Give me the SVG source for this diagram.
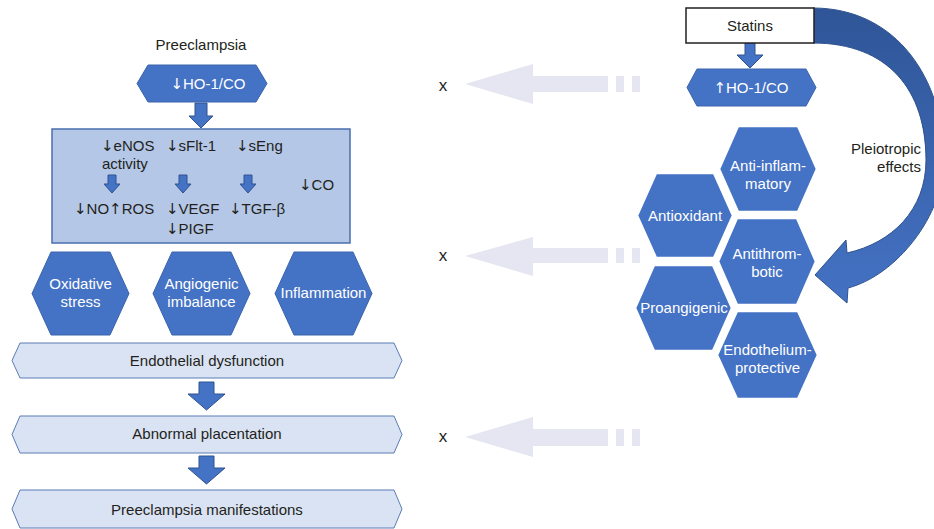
<svg xmlns="http://www.w3.org/2000/svg" width="934" height="529" viewBox="0 0 934 529">
<style>
text{font-family:"Liberation Sans",Arial,sans-serif;font-size:15px;fill:#231f20}
.ar{font-family:"DejaVu Sans",sans-serif;font-size:15px}
.w{fill:#ffffff}
.c{text-anchor:middle}
.hex{fill:#4472c4;stroke:#3a64ad;stroke-width:1}
.hexr{fill:#4472c4;stroke:#ffffff;stroke-width:2.5}
.banner{fill:#dae3f3;stroke:#5b7cb5;stroke-width:1}
.box{fill:#b4c7e7;stroke:#4a6fae;stroke-width:1.5}
.arr{fill:#4472c4;stroke:#2f528f;stroke-width:1}
.fade{fill:#e6e6f2}
</style>
<defs>
<linearGradient id="cg" x1="0" y1="0" x2="0" y2="1">
<stop offset="0" stop-color="#2f5597"/>
<stop offset="1" stop-color="#4472c4"/>
</linearGradient>
</defs>

<g id="connectors">
<path class="arr" d="M195,103 H207 V116 H213 L201,128 L189,116 H195 Z"/>
<path class="arr" d="M199,382 H214 V394 H225 L206.5,410 L188,394 H199 Z"/>
<path class="arr" d="M199,456 H214 V468 H225 L206.5,484 L188,468 H199 Z"/>
<path class="arr" d="M745,43 H755 V55 H763 L750,68 L737,55 H745 Z"/>
<path id="curved" fill="url(#cg)" stroke="#2f528f" stroke-width="1" d="M813,8 C897,8 944,80 944,160 C944,215 897,275 848,288 L847,303 L815,275 L846,240 L847,253 C892,243 926,210 926,160 C926,90 888,43 813,43 Z"/>
<g id="faded1" class="fade">
<path d="M465,84 L533,64 V76 H608 V92 H533 V104 Z"/>
<rect x="616" y="76" width="8" height="16"/>
<rect x="632" y="76" width="8" height="16"/>
</g>
<g id="faded2" class="fade">
<path d="M465,256 L533,237 V248 H608 V263 H533 V276 Z"/>
<rect x="616" y="248" width="8" height="15"/>
<rect x="632" y="248" width="8" height="15"/>
</g>
<g id="faded3" class="fade">
<path d="M465,437 L533,417 V429 H608 V446 H533 V457 Z"/>
<rect x="616" y="429" width="8" height="17"/>
<rect x="632" y="429" width="8" height="17"/>
</g>
</g>

<g id="preeclampsia-title"><text class="c" x="201" y="50">Preeclampsia</text></g>

<g id="ho1-down">
<polygon class="hex" points="137,83.5 148,65 256,65 267,83.5 256,102 148,102"/>
<text class="w c" x="208" y="89"><tspan class="ar">↓</tspan>HO-1/CO</text>
</g>

<g id="mediators">
<rect class="box" x="52" y="129" width="298" height="114"/>
<text x="101" y="151"><tspan class="ar">↓</tspan>eNOS</text>
<text x="102" y="169">activity</text>
<text x="166" y="151"><tspan class="ar">↓</tspan>sFlt-1</text>
<text x="236" y="151"><tspan class="ar">↓</tspan>sEng</text>
<text x="299" y="190"><tspan class="ar">↓</tspan>CO</text>
<path class="arr" d="M108,175 H116 V184 H120 L112,193 L104,184 H108 Z"/>
<path class="arr" d="M179,175 H187 V184 H191 L183,193 L175,184 H179 Z"/>
<path class="arr" d="M244,175 H252 V184 H256 L248,193 L240,184 H244 Z"/>
<text x="74" y="214"><tspan class="ar">↓</tspan>NO<tspan class="ar">↑</tspan>ROS</text>
<text x="166" y="214"><tspan class="ar">↓</tspan>VEGF</text>
<text x="229" y="214"><tspan class="ar">↓</tspan>TGF-β</text>
<text x="166" y="234"><tspan class="ar">↓</tspan>PIGF</text>
</g>

<g id="oxidative-stress">
<polygon class="hex" points="32,293.5 51,252 110,252 129,293.5 110,335 51,335"/>
<text class="w c" x="80.5" y="289">Oxidative</text>
<text class="w c" x="80.5" y="307">stress</text>
</g>
<g id="angiogenic-imbalance">
<polygon class="hex" points="153,293.5 172,252 231,252 250,293.5 231,335 172,335"/>
<text class="w c" x="201.5" y="289">Angiogenic</text>
<text class="w c" x="201.5" y="307">imbalance</text>
</g>
<g id="inflammation">
<polygon class="hex" points="275,293.5 294,252 353,252 372,293.5 353,335 294,335"/>
<text class="w c" x="323.5" y="298">Inflammation</text>
</g>

<g id="endothelial-dysfunction">
<polygon class="banner" points="12,360.5 20,343 394,343 402,360.5 394,378 20,378"/>
<text class="c" x="207" y="366">Endothelial dysfunction</text>
</g>
<g id="abnormal-placentation">
<polygon class="banner" points="12,434.5 20,416 394,416 402,434.5 394,453 20,453"/>
<text class="c" x="207" y="439">Abnormal placentation</text>
</g>
<g id="preeclampsia-manifestations">
<polygon class="banner" points="12,509 20,490 394,490 402,509 394,528 20,528"/>
<text class="c" x="207" y="515">Preeclampsia manifestations</text>
</g>

<g id="statins">
<rect x="686" y="8" width="128" height="35" fill="#ffffff" stroke="#231f20" stroke-width="1.5"/>
<text class="c" x="750" y="31">Statins</text>
</g>
<g id="ho1-up">
<polygon class="hex" points="687,87.5 697,69 806,69 816,87.5 806,106 697,106"/>
<text class="w c" x="751" y="93"><tspan class="ar">↑</tspan>HO-1/CO</text>
</g>
<g id="pleiotropic-label">
<text x="921" y="154" text-anchor="end">Pleiotropic</text>
<text x="921" y="172" text-anchor="end">effects</text>
</g>

<g id="anti-inflammatory">
<polygon class="hexr" points="719,169 738,126 798,126 817,169 798,212 738,212"/>
<text class="w c" x="768" y="171">Anti-inflam-</text>
<text class="w c" x="768" y="189">matory</text>
</g>
<g id="antioxidant">
<polygon class="hexr" points="637,215.5 656,173 714,173 733,215.5 714,258 656,258"/>
<text class="w c" x="685" y="221">Antioxidant</text>
</g>
<g id="antithrombotic">
<polygon class="hexr" points="718,261.5 737,218 797,218 816,261.5 797,305 737,305"/>
<text class="w c" x="767" y="259">Antithrom-</text>
<text class="w c" x="767" y="277">botic</text>
</g>
<g id="proangigenic">
<polygon class="hexr" points="635,308 654,265 713,265 732,308 713,351 654,351"/>
<text class="w c" x="684" y="313">Proangigenic</text>
</g>
<g id="endothelium-protective">
<polygon class="hexr" points="717,355 737,311 798,311 818,355 798,399 737,399"/>
<text class="w c" x="767.5" y="355">Endothelium-</text>
<text class="w c" x="767.5" y="373">protective</text>
</g>

<g id="x-labels">
<text class="c" x="443" y="91" style="font-size:17px">x</text>
<text class="c" x="443" y="261" style="font-size:17px">x</text>
<text class="c" x="443" y="442" style="font-size:17px">x</text>
</g>
</svg>
